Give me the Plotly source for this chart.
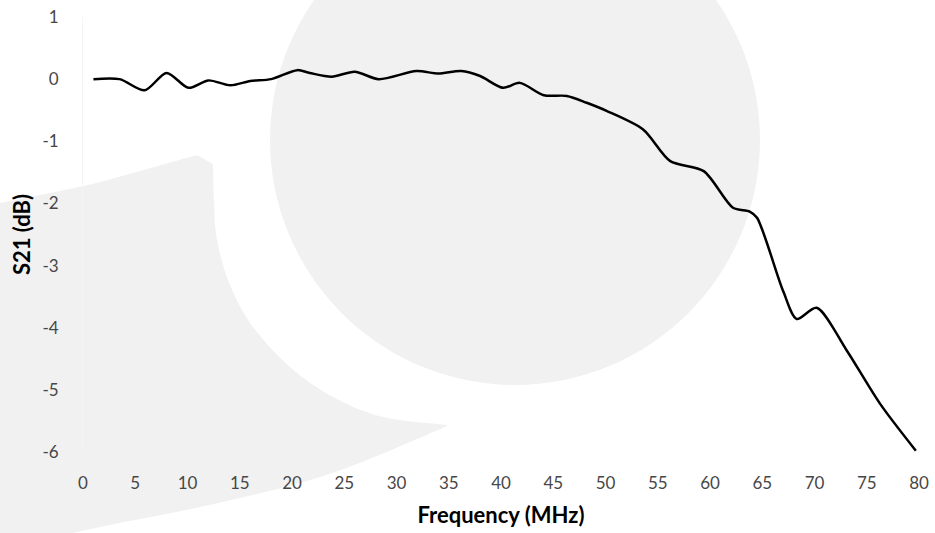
import plotly.graph_objects as go

# ---- data ----
freq_mhz = [1, 3.5, 5.9, 8.0, 10.1, 12.0, 14.1, 16.0, 18.0, 20.5, 21.7, 23.8, 26.0,
            28.3, 31.9, 34.0, 36.2, 38.0, 40.2, 41.8, 44.1, 46.3, 48.2, 50.1, 53.6,
            56.2, 59.4, 62.2, 63.8, 64.5, 67.0, 68.3, 70.2, 73.1, 76.3, 79.7]
s21_db = [0.0, 0.0, -0.18, 0.10, -0.14, -0.02, -0.10, -0.03, 0.0, 0.145, 0.10, 0.04, 0.12,
          0.0, 0.13, 0.09, 0.13, 0.05, -0.14, -0.06, -0.26, -0.27, -0.38, -0.51, -0.81,
          -1.32, -1.48, -2.07, -2.13, -2.23, -3.41, -3.86, -3.68, -4.37, -5.23, -5.98]
x_ticks = list(range(0, 81, 5))
y_ticks = [1, 0, -1, -2, -3, -4, -5, -6]
x_title = "Frequency (MHz)"
y_title = "S21 (dB)"

# ---- layout geometry (pixels) ----
W, H = 935, 533
ML, MR, MT, MB = 83, 16, 17, 81
PW, PH = W - ML - MR, H - MT - MB


def px(x):
    return (x - ML) / PW


def py(y):
    return (H - MB - y) / PH


def smooth(pts):
    """Catmull-Rom through pixel points -> SVG cubic segments (paper coords)."""
    out = []
    n = len(pts)
    for i in range(n - 1):
        p0 = pts[i - 1] if i > 0 else pts[i]
        p1 = pts[i]
        p2 = pts[i + 1]
        p3 = pts[i + 2] if i + 2 < n else pts[i + 1]
        c1 = (p1[0] + (p2[0] - p0[0]) / 6, p1[1] + (p2[1] - p0[1]) / 6)
        c2 = (p2[0] - (p3[0] - p1[0]) / 6, p2[1] - (p3[1] - p1[1]) / 6)
        out.append("C %.5f,%.5f %.5f,%.5f %.5f,%.5f" % (
            px(c1[0]), py(c1[1]), px(c2[0]), py(c2[1]), px(p2[0]), py(p2[1])))
    return " ".join(out)


# watermark swoosh outline
top_edge = [(-5, 204), (50, 193), (100, 182), (197, 155)]
inner_edge = [(213, 164), (214, 200), (217, 240), (230, 285), (253, 327),
              (290, 367), (333, 397), (383, 417), (447, 425)]
outer_edge = [(447, 426), (367, 460), (300, 483), (200, 507), (100, 527), (-5, 550)]

path = "M %.5f,%.5f " % (px(top_edge[0][0]), py(top_edge[0][1]))
path += smooth(top_edge)
path += " L %.5f,%.5f " % (px(inner_edge[0][0]), py(inner_edge[0][1]))
path += smooth(inner_edge)
path += " L %.5f,%.5f " % (px(outer_edge[0][0]), py(outer_edge[0][1]))
path += smooth(outer_edge)
path += " Z"

WM = "#f1f1f1"
shapes = [
    dict(type="circle", xref="paper", yref="paper", layer="below",
         x0=px(270), x1=px(760), y0=py(385), y1=py(-105),
         fillcolor=WM, line=dict(width=0)),
    dict(type="path", xref="paper", yref="paper", layer="below",
         path=path, fillcolor=WM, line=dict(width=0)),
]

fig = go.Figure()
fig.add_trace(go.Scatter(
    x=freq_mhz, y=s21_db, mode="lines",
    line=dict(color="black", width=2.5, shape="spline", smoothing=0.8),
    showlegend=False, hoverinfo="x+y"))

FONT = "Lato, 'Open Sans', sans-serif"
fig.update_layout(
    width=W, height=H,
    margin=dict(l=ML, r=MR, t=MT, b=MB, autoexpand=False),
    paper_bgcolor="white", plot_bgcolor="rgba(0,0,0,0)",
    shapes=shapes,
    font=dict(family=FONT, size=17, color="#474747"),
    xaxis=dict(range=[0, 80], tickvals=x_ticks, ticktext=[str(v) for v in x_ticks],
               showgrid=False, zeroline=False, showline=False, ticks="",
               automargin=False, ticklabelstandoff=19,
               title=dict(text="<b>" + x_title + "</b>", standoff=15,
                          font=dict(family=FONT, size=22, color="black"))),
    yaxis=dict(range=[-6, 1], tickvals=y_ticks, ticktext=[str(v) for v in y_ticks],
               showgrid=False, zeroline=False, showline=True, linecolor="#f4f4f4",
               automargin=False, ticks="", ticklabelstandoff=20,
               title=dict(text="<b>" + y_title + "</b>", standoff=5,
                          font=dict(family=FONT, size=22, color="black"))),
)

fig.write_html("out.html", config={"displayModeBar": False},
               post_script="document.body.style.margin='0';")
